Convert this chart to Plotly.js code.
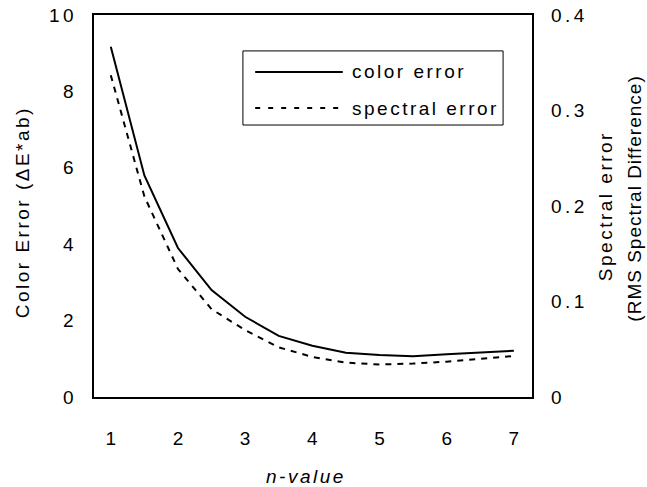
<!DOCTYPE html>
<html>
<head>
<meta charset="utf-8">
<script src="https://cdn.plot.ly/plotly-3.0.1.min.js"></script>
<style>
  html, body { margin: 0; padding: 0; background: #fff; }
  #chart { width: 647px; height: 487px; }
  svg text, svg tspan { letter-spacing: 2.5px; }
  #chart g.ytick text, #chart g.y2tick text { letter-spacing: 3.5px; }
  #chart g.xtick text { letter-spacing: 0; }
  #chart g.annotation[data-index="5"] text { letter-spacing: 1px; }
</style>
</head>
<body>
<div id="chart"></div>
<script>
// n-values sampled every 0.5
const nValues = [1, 1.5, 2, 2.5, 3, 3.5, 4, 4.5, 5, 5.5, 6, 6.5, 7];
// Color error (ΔE*ab), left axis
const colorError = [9.17, 5.8, 3.9, 2.8, 2.1, 1.6, 1.34, 1.16, 1.1, 1.07, 1.12, 1.17, 1.21];
// Spectral error (RMS spectral difference), right axis
const spectralError = [0.337, 0.21, 0.134, 0.092, 0.07, 0.052, 0.042, 0.036, 0.034, 0.035, 0.037, 0.040, 0.043];

const leftTicks = [0, 2, 4, 6, 8, 10];
const rightTicks = [0, 0.1, 0.2, 0.3, 0.4];
const xTicks = [1, 2, 3, 4, 5, 6, 7];

const seriesNames = ['color error', 'spectral error'];
const xTitle = 'n-value';
const leftTitle = 'Color Error (ΔE*ab)';
const rightTitleLines = ['Spectral error', '(RMS Spectral Difference)'];

const FONT = 'Liberation Sans, Arial, Helvetica, sans-serif';

const traces = [
  {
    x: nValues, y: colorError, name: seriesNames[0],
    type: 'scatter', mode: 'lines',
    line: { color: '#000', width: 2 },
    yaxis: 'y', showlegend: false
  },
  {
    x: nValues, y: spectralError, name: seriesNames[1],
    type: 'scatter', mode: 'lines',
    line: { color: '#000', width: 2, dash: '6px,6px' },
    yaxis: 'y2', showlegend: false
  }
];

// Legend drawn as a framed box with sample lines and labels
const lgX0 = 0.340, lgX1 = 0.934, lgY0 = 0.712, lgY1 = 0.906;
const lgLineX0 = 0.368, lgLineX1 = 0.568, lgTextX = 0.584;
const lgRows = [0.851, 0.7565];

const shapes = [
  { type: 'rect', xref: 'paper', yref: 'paper', x0: lgX0, x1: lgX1, y0: lgY0, y1: lgY1,
    line: { color: '#000', width: 1 }, fillcolor: '#fff', layer: 'above' },
  { type: 'line', xref: 'paper', yref: 'paper', x0: lgLineX0, x1: lgLineX1, y0: lgRows[0], y1: lgRows[0],
    line: { color: '#000', width: 2 }, layer: 'above' },
  { type: 'line', xref: 'paper', yref: 'paper', x0: lgLineX0, x1: lgLineX1, y0: lgRows[1], y1: lgRows[1],
    line: { color: '#000', width: 2, dash: '5px,8px' }, layer: 'above' }
];

const textFont = { family: FONT, size: 19, color: '#000' };

const annotations = seriesNames.map((name, i) => ({
  xref: 'paper', yref: 'paper', x: lgTextX, y: lgRows[i],
  xanchor: 'left', yanchor: 'middle', showarrow: false,
  text: name, font: textFont
}));

// Axis titles
annotations.push(
  { xref: 'paper', yref: 'paper', x: 0.484, y: -0.207, xanchor: 'center', yanchor: 'middle',
    showarrow: false, text: xTitle, font: Object.assign({}, textFont, { style: 'italic' }) },
  { xref: 'paper', yref: 'paper', x: -0.164, y: 0.484, xanchor: 'center', yanchor: 'middle',
    showarrow: false, textangle: -90, text: leftTitle, font: textFont },
  { xref: 'paper', yref: 'paper', x: 1.167, y: 0.50, xanchor: 'center', yanchor: 'middle',
    showarrow: false, textangle: -90, text: rightTitleLines[0], font: textFont },
  { xref: 'paper', yref: 'paper', x: 1.233, y: 0.52, xanchor: 'center', yanchor: 'middle',
    showarrow: false, textangle: -90, text: rightTitleLines[1], font: textFont }
);

const layout = {
  width: 647, height: 487,
  margin: { l: 94, r: 115, t: 15, b: 90 },
  paper_bgcolor: '#fff', plot_bgcolor: '#fff',
  font: textFont,
  showlegend: false,
  xaxis: {
    range: [0.75, 7.27], tickvals: xTicks, ticks: '',
    showgrid: false, zeroline: false,
    showline: true, mirror: true, linecolor: '#000', linewidth: 2,
    ticklabelstandoff: 23
  },
  yaxis: {
    range: [0, 10], tickvals: leftTicks, ticks: '',
    showgrid: false, zeroline: false,
    showline: true, mirror: true, linecolor: '#000', linewidth: 2,
    ticklabelstandoff: 11
  },
  yaxis2: {
    overlaying: 'y', side: 'right',
    range: [0, 0.4], tickvals: rightTicks, ticks: '',
    showgrid: false, zeroline: false, showline: false,
    ticklabelstandoff: 18
  },
  shapes: shapes,
  annotations: annotations
};

Plotly.newPlot('chart', traces, layout, { displayModeBar: false, staticPlot: true });
</script>
</body>
</html>
